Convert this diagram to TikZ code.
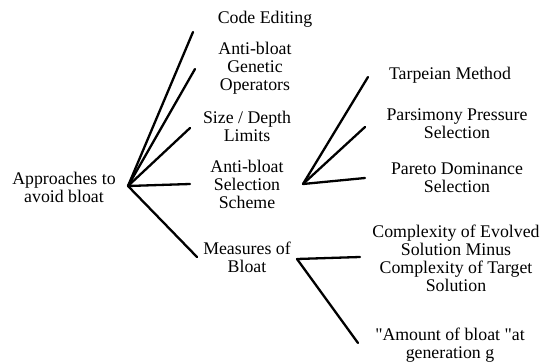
\documentclass[tikz,border=0pt]{standalone}
\usepackage{fontspec}
\setmainfont{Liberation Serif}
\newfontfamily\timesfont{Liberation Serif}
\begin{document}
\begin{tikzpicture}[x=1pt,y=-1pt,
  lbl/.style={inner sep=0pt,align=center,font=\timesfont\fontsize{17.8}{18}\selectfont},
  branch/.style={line width=2.3pt,line cap=round}]
\useasboundingbox (0,0) rectangle (542,362);
% text nodes
\node[lbl] (root) at (64,187.5) {Approaches to\\avoid bloat};
\node[lbl] (code) at (265,19) {Code Editing};
\node[lbl] (ops) at (255,68) {Anti-bloat\\Genetic\\Operators};
\node[lbl] (size) at (247,126.5) {Size / Depth\\Limits};
\node[lbl] (sel) at (247,184) {Anti-bloat\\Selection\\Scheme};
\node[lbl] (meas) at (247,257) {Measures of\\Bloat};
\node[lbl] (tarp) at (450,75) {Tarpeian Method};
\node[lbl] (pars) at (457,124) {Parsimony Pressure\\Selection};
\node[lbl] (pareto) at (457,178) {Pareto Dominance\\Selection};
\node[lbl] (comp) at (456,258) {Complexity of Evolved\\Solution Minus\\Complexity of Target\\Solution};
\node[lbl] (amount) at (450,345.5) {\symbol{34}Amount of bloat \symbol{34}at\\generation g};
% hubs and line ends
\coordinate (h1) at (128,186);
\coordinate (e1) at (193,32);
\coordinate (e2) at (195,69);
\coordinate (e3) at (190,128);
\coordinate (e4) at (190,184);
\coordinate (e5) at (197,257);
\coordinate (h2) at (303,184);
\coordinate (f1) at (368,77);
\coordinate (f2) at (365,127);
\coordinate (f3) at (365,178);
\coordinate (h3) at (297,259);
\coordinate (g1) at (360,257);
\coordinate (g2) at (358,343);
% connectors
\foreach \e in {e1,e2,e3,e4,e5} \draw[branch] (h1) -- (\e);
\foreach \f in {f1,f2,f3} \draw[branch] (h2) -- (\f);
\foreach \g in {g1,g2} \draw[branch] (h3) -- (\g);
\end{tikzpicture}
\end{document}
